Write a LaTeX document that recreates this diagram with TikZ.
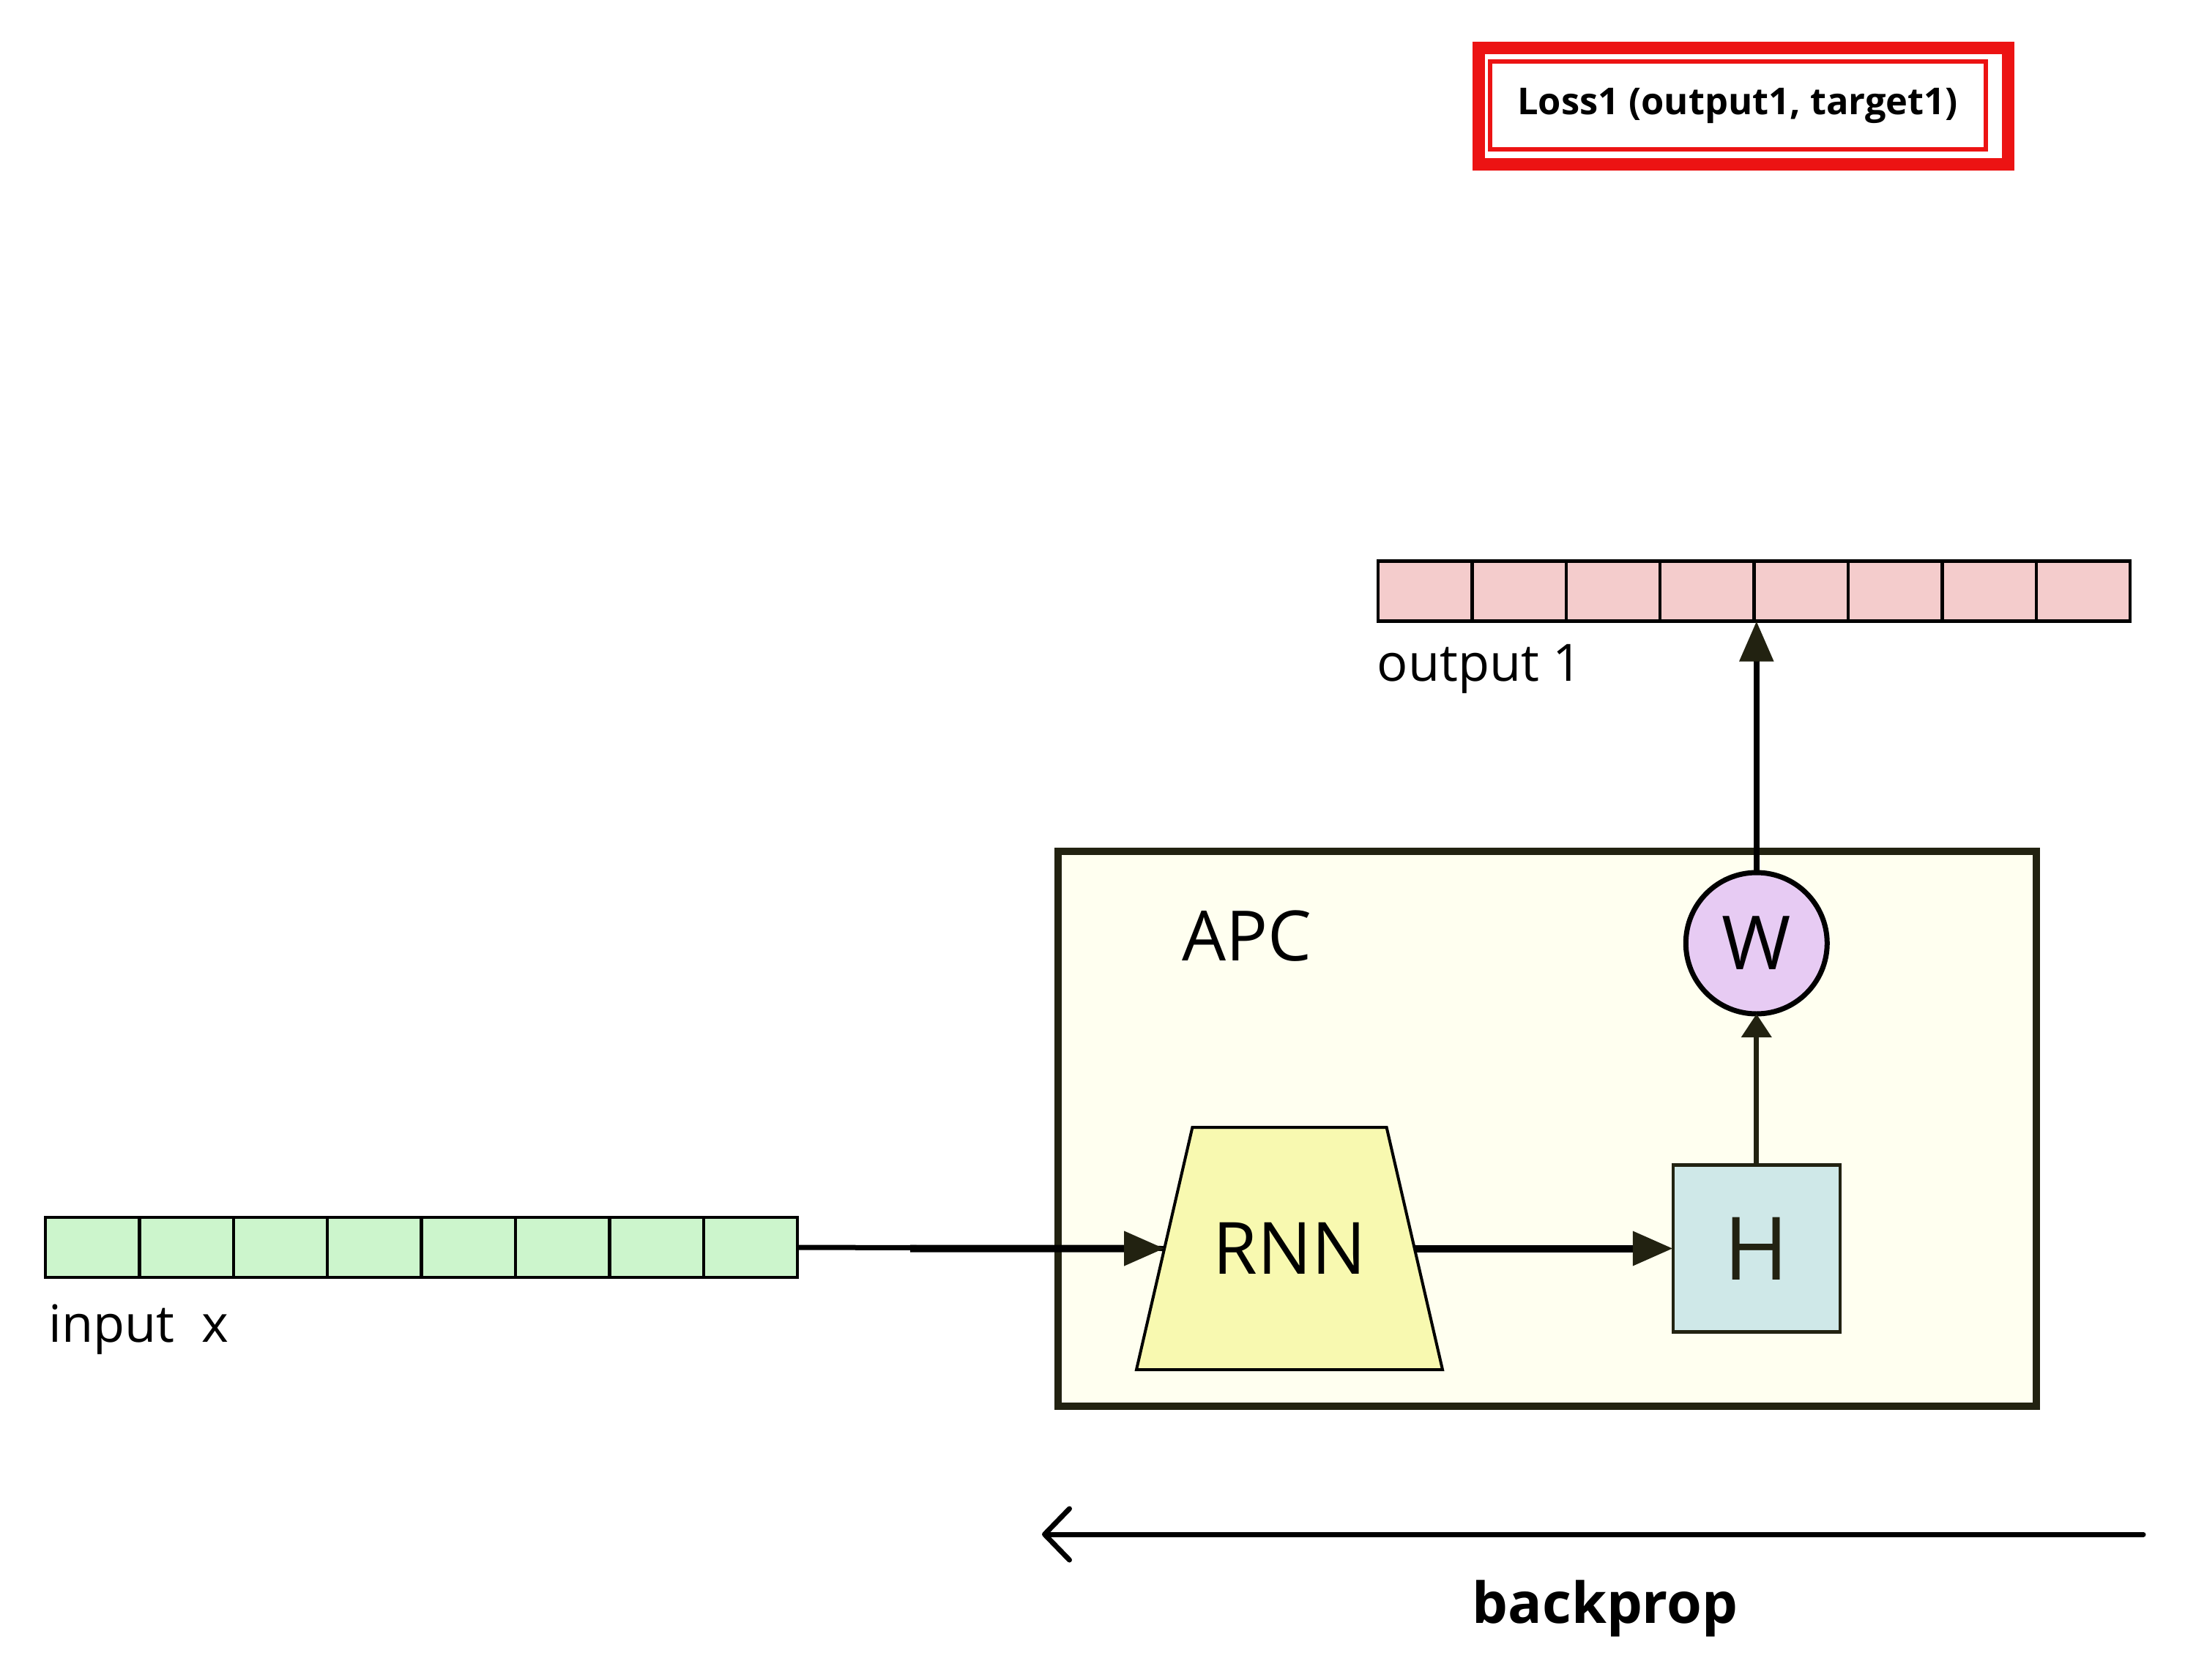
\documentclass[tikz,border=0pt]{standalone}
\usepackage{fontspec}
\setmainfont{Open Sans}
\usepackage{tikz}
\usetikzlibrary{shapes.geometric, arrows.meta, positioning}
\definecolor{inputgreen}{HTML}{CCF5CC}
\definecolor{outputpink}{HTML}{F4CCCC}
\definecolor{apcivory}{HTML}{FFFFF0}
\definecolor{rnnyellow}{HTML}{F8F9B0}
\definecolor{hcyan}{HTML}{CFE8E8}
\definecolor{wlilac}{HTML}{E7CBF3}
\definecolor{lossred}{HTML}{EC1313}
\definecolor{darkline}{HTML}{222211}
\tikzset{
  incell/.style={rectangle, draw=black, fill=inputgreen, line width=0.045cm,
                 minimum width=1.284cm, minimum height=0.82cm, inner sep=0pt, outer sep=0pt},
  outcell/.style={rectangle, draw=black, fill=outputpink, line width=0.045cm,
                  minimum width=1.284cm, minimum height=0.82cm, inner sep=0pt, outer sep=0pt},
  apcbox/.style={rectangle, draw=darkline, fill=apcivory, line width=0.10cm,
                 minimum width=13.36cm, minimum height=7.58cm, outer sep=0pt},
  rnnblock/.style={trapezium, trapezium left angle=77, trapezium right angle=77,
                   trapezium stretches body=true, draw=black, fill=rnnyellow, line width=0.04cm,
                   text height=0.70cm, text depth=0cm, inner xsep=0pt, inner ysep=1.305cm,
                   minimum width=4.18cm, outer sep=0pt,
                   font=\fontsize{28}{34}\selectfont},
  hblock/.style={rectangle, draw=darkline, fill=hcyan, line width=0.045cm,
                 minimum size=2.28cm, inner sep=0pt, outer sep=0pt, text=darkline,
                 font=\fontsize{34}{40}\selectfont},
  wnode/.style={circle, draw=black, fill=wlilac, line width=0.07cm,
                minimum size=1.93cm, inner sep=0pt, outer sep=0pt,
                font=\fontsize{29}{34}\selectfont},
  lossbox/.style={rectangle, draw=lossred, line width=0.06cm,
                  minimum width=6.77cm, minimum height=1.20cm, inner sep=0pt, outer sep=0pt,
                  font=\fontsize{14.4}{17}\selectfont\bfseries},
  lossframe/.style={rectangle, draw=lossred, line width=0.17cm,
                    minimum width=7.23cm, minimum height=1.59cm, outer sep=0pt},
  celllabel/.style={anchor=base west, inner sep=0pt, font=\fontsize{20}{24}\selectfont},
  boxlabel/.style={inner sep=0pt, font=\fontsize{27}{32}\selectfont},
}
\begin{document}
\begin{tikzpicture}[
  arrow/.style={draw=darkline, line width=0.07cm, -{Triangle[length=0.32cm, width=0.40cm]}},
  bigarrow/.style={draw=black, line width=0.10cm, -{Triangle[length=0.55cm, width=0.45cm, color=darkline]}},
  thinline/.style={draw=black, line width=0.07cm},
  backarrow/.style={draw=black, line width=0.07cm, line cap=round,
                    -{Straight Barb[length=0.34cm, width=0.70cm, round]}}
]
  \useasboundingbox (0,0) rectangle (29.84,-22.95);

  % loss box on top
  \node (lossouter) [lossframe] at (23.81,-1.45) {};
  \node (loss) [lossbox] at (23.73,-1.445) {Loss1 (output1, target1)};

  % output vector
  \node (out1) [outcell] at (19.462,-8.075) {};
  \node (out2) [outcell, right=0pt of out1] {};
  \node (out3) [outcell, right=0pt of out2] {};
  \node (out4) [outcell, right=0pt of out3] {};
  \node (out5) [outcell, right=0pt of out4] {};
  \node (out6) [outcell, right=0pt of out5] {};
  \node (out7) [outcell, right=0pt of out6] {};
  \node (out8) [outcell, right=0pt of out7] {};
  \node (outlabel) [celllabel] at (18.80,-9.30) {output 1};

  % input vector
  \node (in1) [incell] at (1.262,-17.04) {};
  \node (in2) [incell, right=0pt of in1] {};
  \node (in3) [incell, right=0pt of in2] {};
  \node (in4) [incell, right=0pt of in3] {};
  \node (in5) [incell, right=0pt of in4] {};
  \node (in6) [incell, right=0pt of in5] {};
  \node (in7) [incell, right=0pt of in6] {};
  \node (in8) [incell, right=0pt of in7] {};
  \node (inlabel) [celllabel] at (0.66,-18.33) {input~~x};

  % APC model
  \node (apc) [apcbox] at (21.13,-15.42) {};
  \node (apclabel) [boxlabel] at (17.03,-12.79) {APC};
  \node (rnn) [rnnblock] at (17.61,-17.055) {RNN};
  \node (h) [hblock, right=3.53cm of rnn] {H};
  \node (w) [wnode, above=2.065cm of h] {W};

  \draw[thinline] (in8.east) -- (rnn.west);
  \coordinate (inbend) at (12.43,-17.055);
  \draw[bigarrow] (inbend) -- (rnn.west);
  \draw[bigarrow] (rnn.east) -- (h.west);
  \draw[arrow] (h.north) -- (w.south);
  \draw[bigarrow, line width=0.085cm] (w.north) -- (w.north |- out5.south west);

  % backprop
  \coordinate (bpright) at (29.27,-20.96);
  \coordinate (bpleft) at (14.23,-20.96);
  \draw[backarrow] (bpright) -- (bpleft);
  \node (bplabel) [anchor=base, inner sep=0pt, font=\fontsize{22}{26}\selectfont\bfseries]
    at (21.92,-22.17) {backprop};
\end{tikzpicture}
\end{document}
